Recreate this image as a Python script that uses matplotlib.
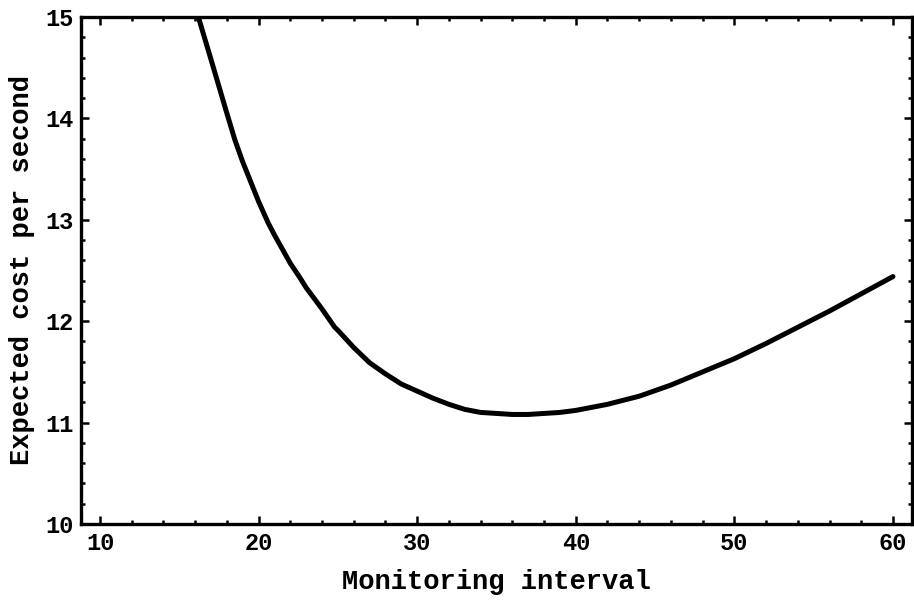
import matplotlib
matplotlib.use("Agg")
import matplotlib.pyplot as plt
from matplotlib.ticker import MultipleLocator

# Data
interval = [16.2, 17, 18, 18.5, 19, 20, 20.6, 21, 22, 22.6, 23, 24, 24.8, 25, 26, 27,
            28, 29, 30, 31, 32, 33, 34, 35, 36, 37, 38, 39, 40, 42, 44, 46, 48,
            50, 52, 54, 56, 58, 60]
cost = [15.0, 14.58, 14.05, 13.79, 13.57, 13.18, 12.97, 12.85, 12.57, 12.43, 12.33,
        12.12, 11.94, 11.91, 11.74, 11.59, 11.48, 11.38, 11.31, 11.24, 11.18, 11.13,
        11.10, 11.09, 11.08, 11.08, 11.09, 11.10, 11.12, 11.18, 11.26, 11.37, 11.50,
        11.63, 11.78, 11.94, 12.10, 12.27, 12.44]
x_ticks = [10, 20, 30, 40, 50, 60]
y_ticks = [10, 11, 12, 13, 14, 15]

font = "Liberation Mono"
plt.rcParams['font.family'] = [font, 'DejaVu Sans']
plt.rcParams['font.weight'] = 'bold'

fig = plt.figure(figsize=(9.14, 6.04), dpi=100)
ax = fig.add_axes([0.0886, 0.1325, 0.9092, 0.8394])

ax.plot(interval, cost, color='black', lw=3.6, solid_capstyle='round',
        solid_joinstyle='round', clip_on=True)

ax.set_xlim(8.8, 61.2)
ax.set_ylim(10, 15)
ax.set_xticks(x_ticks)
ax.set_yticks(y_ticks)
ax.xaxis.set_minor_locator(MultipleLocator(2))
ax.yaxis.set_minor_locator(MultipleLocator(0.2))

for s in ax.spines.values():
    s.set_linewidth(2.4)
    s.set_color('black')

ax.tick_params(which='both', direction='in', top=True, right=True,
               color='black', width=1.8)
ax.tick_params(which='major', length=6, labelsize=17, pad=6)
ax.tick_params(which='minor', length=3)
ax.tick_params(axis='y', which='major', pad=5)

for lab in ax.get_xticklabels() + ax.get_yticklabels():
    lab.set_fontweight('bold')

ax.set_xlabel("Monitoring interval", fontsize=19.5, fontweight='bold', labelpad=10)
ax.set_ylabel("Expected cost per second", fontsize=19.5, fontweight='bold', labelpad=8)

fig.savefig("out.png", dpi=100)
